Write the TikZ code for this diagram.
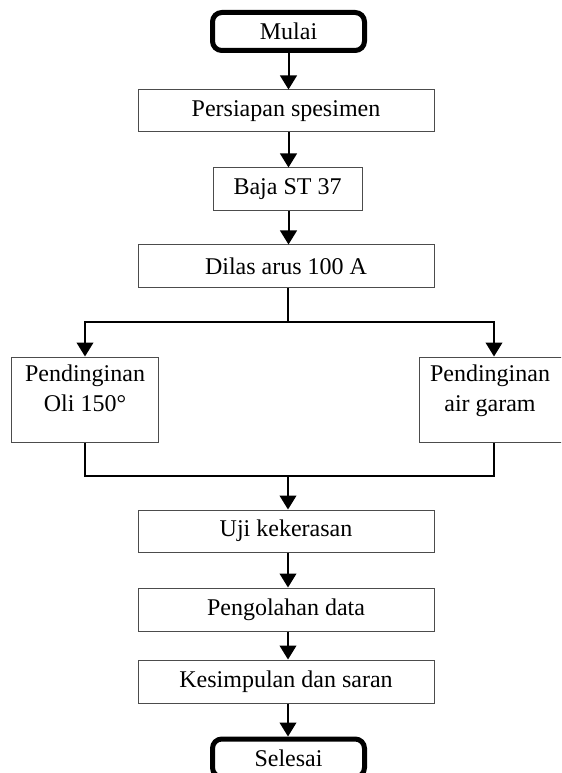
\documentclass[tikz,border=0pt]{standalone}
\usepackage{fontspec}
\setmainfont{Liberation Serif}
\usetikzlibrary{arrows.meta}

\tikzset{every picture/.style={line width=0.75pt}}
\tikzset{
  procbox/.style={draw=black!70, line width=0.75pt, inner sep=0pt, font=\fontsize{18}{22.5}\selectfont},
  termbox/.style={draw=black, line width=3.75pt, rounded corners=7pt, inner sep=0pt, minimum width=114pt, minimum height=28.5pt, font=\fontsize{18}{22.5}\selectfont},
  flowline/.style={line width=1.5pt},
  flowarrow/.style={flowline, -{Triangle[length=10.5pt, width=12.5pt]}}
}

\begin{document}
\begin{tikzpicture}[x=0.75pt,y=0.75pt,yscale=-1,xscale=1]
    \clip (0,0) rectangle (561,773); %diagram is 561 x 773

    %Shape: Rounded Rect [id:mulai]
    \node [termbox] (mulai) at (288.5,31.5) {Mulai};
    %Shape: Rectangle [id:persiapan]
    \node [procbox, minimum width=222pt, minimum height=31.5pt] (persiapan) at (286,111) {Persiapan spesimen};
    %Shape: Rectangle [id:baja]
    \node [procbox, minimum width=111.75pt, minimum height=32.25pt] (baja) at (287.5,189.5) {Baja ST 37};
    %Shape: Rectangle [id:dilas]
    \node [procbox, minimum width=222pt, minimum height=31.5pt] (dilas) at (286,266) {Dilas arus 100 A};
    %Shape: Rectangle [id:oli]
    \node [procbox, minimum width=110.25pt, minimum height=63.75pt] (oli) at (85,399.5) {};
    %Shape: Rectangle [id:garam]
    \node [procbox, minimum width=112.5pt, minimum height=63.75pt] (garam) at (494,399.5) {};
    %Shape: Rectangle [id:uji]
    \node [procbox, minimum width=222pt, minimum height=31.5pt] (uji) at (286,531) {Uji kekerasan};
    %Shape: Rectangle [id:olah]
    \node [procbox, minimum width=222pt, minimum height=32.25pt] (olah) at (286,609.5) {Pengolahan data};
    %Shape: Rectangle [id:simpul]
    \node [procbox, minimum width=222pt, minimum height=32.25pt] (simpul) at (286,681.5) {Kesimpulan dan saran};
    %Shape: Rounded Rect [id:selesai]
    \node [termbox] (selesai) at (288.5,758) {Selesai};

    % Text Node
    \node [anchor=north, inner sep=0pt, align=center, font=\fontsize{18}{22.5}\selectfont] (olitext) at ([yshift=6pt]oli.north) {Pendinginan\\Oli 150°};
    % Text Node
    \node [anchor=north, inner sep=0pt, align=center, font=\fontsize{18}{22.5}\selectfont] (garamtext) at ([yshift=6pt, xshift=-3pt]garam.north) {Pendinginan\\air garam};

    %Straight Lines
    \coordinate (split) at (288,322);
    \coordinate (join) at (288,476);
    \draw [flowarrow] (mulai.south) -- (mulai.south |- persiapan.north);
    \draw [flowarrow] (persiapan.south -| mulai.south) -- (mulai.south |- baja.north);
    \draw [flowarrow] (baja.south -| mulai.south) -- (mulai.south |- dilas.north);
    \draw [flowline] (dilas.south -| split) -- (split);
    \draw [flowarrow] (split) -| (oli.north);
    \draw [flowarrow] (split) -| (garam.north);
    \draw [flowline] (oli.south) -- (oli.south |- join) -- (garam.south |- join) -- (garam.south);
    \draw [flowarrow] (join) -- (join |- uji.north);
    \draw [flowarrow] (uji.south -| join) -- (join |- olah.north);
    \draw [flowarrow] (olah.south -| join) -- (join |- simpul.north);
    \draw [flowarrow] (simpul.south -| join) -- (join |- selesai.north);

\end{tikzpicture}
\end{document}
